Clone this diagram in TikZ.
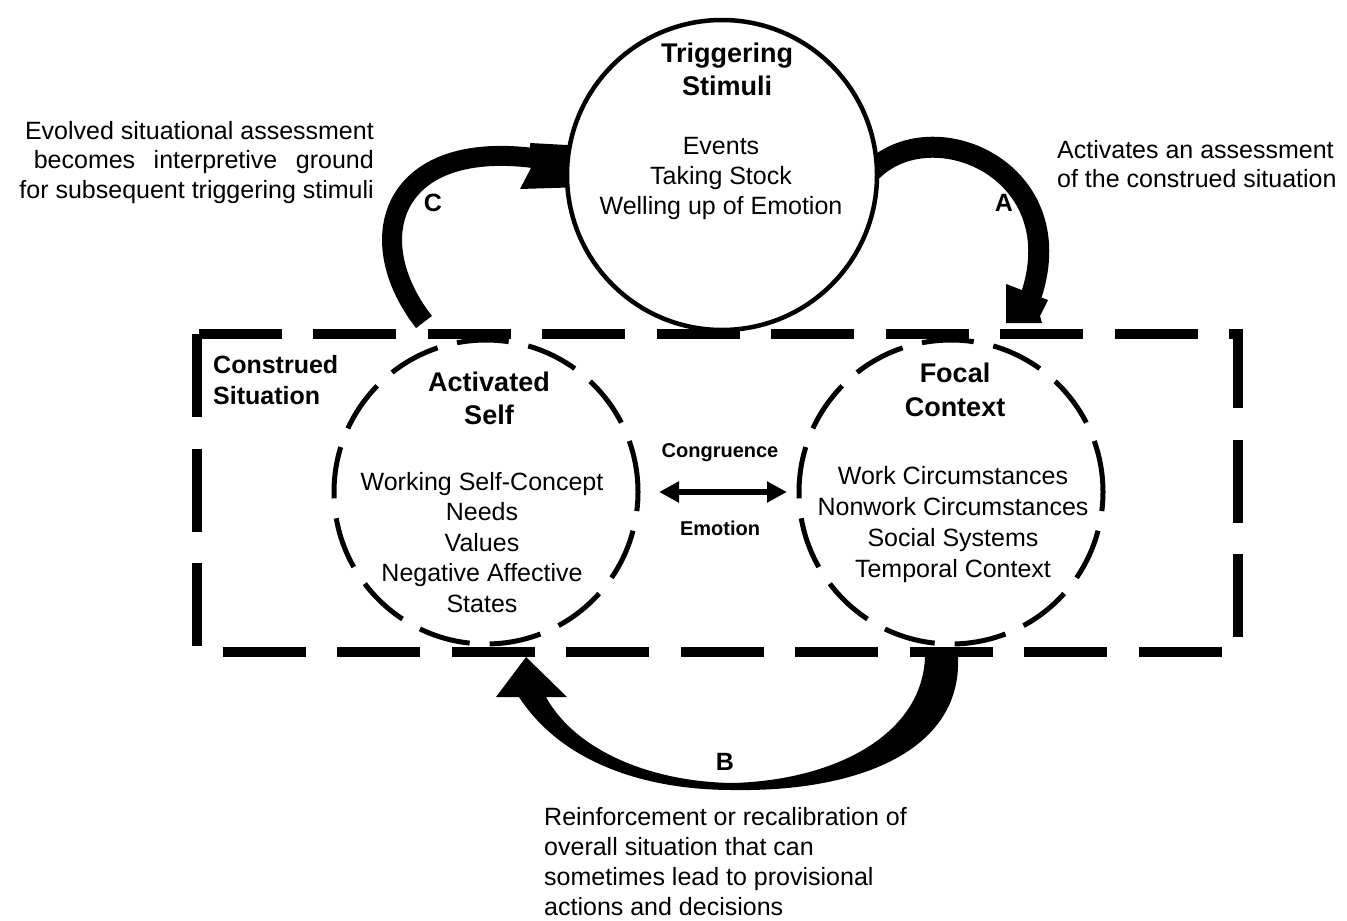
\documentclass[tikz,border=0pt]{standalone}
\usepackage{fontspec}
\setmainfont{Liberation Sans}
\usetikzlibrary{arrows.meta}
\begin{document}
\begin{tikzpicture}[x=1pt,y=-1pt,
  body/.style={font=\fontsize{25}{30.5}\selectfont, align=center, inner sep=0pt},
  headtxt/.style={font=\fontsize{27}{33}\selectfont\bfseries, align=center, inner sep=0pt},
  smallbold/.style={font=\fontsize{20}{24}\selectfont\bfseries, inner sep=0pt},
  letter/.style={font=\fontsize{25}{30}\selectfont\bfseries, inner sep=0pt},
  solidcirc/.style={circle, draw, fill=white, line width=4.5pt, inner sep=0pt},
  dashcirc/.style={circle, draw, line width=5pt, inner sep=0pt, dash pattern=on 52pt off 20pt},
  boxline/.style={draw, line width=10pt, dash pattern=on 83pt off 31.5pt},
  dbl/.style={line width=6.5pt, {Triangle[length=20pt,width=20pt]}-{Triangle[length=20pt,width=20pt]}}
]
\useasboundingbox (0,0) rectangle (1347,921);

% ---- curved block arrows (drawn first, partly covered) ----
% C
\coordinate (Cs) at (424,322);
\coordinate (Ce) at (533,158);
\draw[line width=20pt] (Cs) .. controls (360,240) and (390,140) .. (Ce);
\fill (530,143) -- (585,146) -- (585,187) -- (520,189) -- (531,168) -- cycle;
% A
\coordinate (As) at (864,180);
\coordinate (Ae) at (1031,296);
\draw[line width=21pt] (As) .. controls (920,105) and (1075,165) .. (Ae);
\fill (1006,284) -- (1006,323) -- (1042,323) -- (1040,316) -- (1048,300) -- cycle;
% B
\coordinate (Bo) at (958,657);
\coordinate (Bi) at (925,657);
\coordinate (Bt) at (526,657);
\fill (Bo) .. controls (962,750) and (860,792) .. (733,790)
      .. controls (640,790) and (560,760) .. (519,697)
      -- (496,697) -- (Bt) -- (567,697) -- (546,697)
      .. controls (575,750) and (650,782) .. (733,783)
      .. controls (835,780) and (922,735) .. (Bi) -- cycle;

% ---- construed situation box ----
\path[boxline] (197,334) rectangle (1238,652);

% ---- circles ----
\node[solidcirc, minimum size=310pt] (trig) at (722,175) {};
\node[dashcirc, minimum size=304pt] (self) at (486,492) {};
\node[dashcirc, minimum size=304pt] (focal) at (951,492) {};

% ---- texts ----
\node[headtxt] (trighead) at (727,69) {Triggering\\Stimuli};
\node[body, font=\fontsize{25}{30}\selectfont] (trigbody) at (721,178) {Events\\Taking Stock\\Welling up of Emotion};

\node[headtxt] (selfhead) at (489,398.5) {Activated\\Self};
\node[body] (selfbody) at (482,542.5) {Working Self-Concept\\Needs\\Values\\Negative Affective\\States};

\node[headtxt, font=\fontsize{27}{34}\selectfont\bfseries] (focalhead) at (955,390) {Focal\\Context};
\node[body, font=\fontsize{25}{30.7}\selectfont] (focalbody) at (953,524.5) {Work Circumstances\\Nonwork Circumstances\\Social Systems\\Temporal Context};

\node[font=\fontsize{25}{31}\selectfont\bfseries, align=left, inner sep=0pt, anchor=west] (cs) at (213,380.5) {Construed\\Situation};

\node[smallbold] (cong) at (720,453) {Congruence};
\node[smallbold] (emo) at (720,528) {Emotion};
\draw[dbl, shorten <=18.5pt, shorten >=9.5pt] (self) -- (focal);

\node[body, font=\fontsize{25}{29.5}\selectfont, align=right, anchor=east] (evolved) at (374,162.5)
  {Evolved situational assessment\\\makebox[340pt][s]{becomes interpretive ground}\\for subsequent triggering stimuli};
\node[body, font=\fontsize{25}{29}\selectfont, align=left, anchor=west] (activates) at (1057,164)
  {Activates an assessment\\of the construed situation};
\node[body, font=\fontsize{25}{30}\selectfont, align=left, anchor=west] (reinf) at (544,862)
  {Reinforcement or recalibration of\\overall situation that can\\sometimes lead to provisional\\actions and decisions};

\node[letter] (la) at (1004,203) {A};
\node[letter] (lb) at (725,762) {B};
\node[letter] (lc) at (433,203) {C};
\end{tikzpicture}
\end{document}
